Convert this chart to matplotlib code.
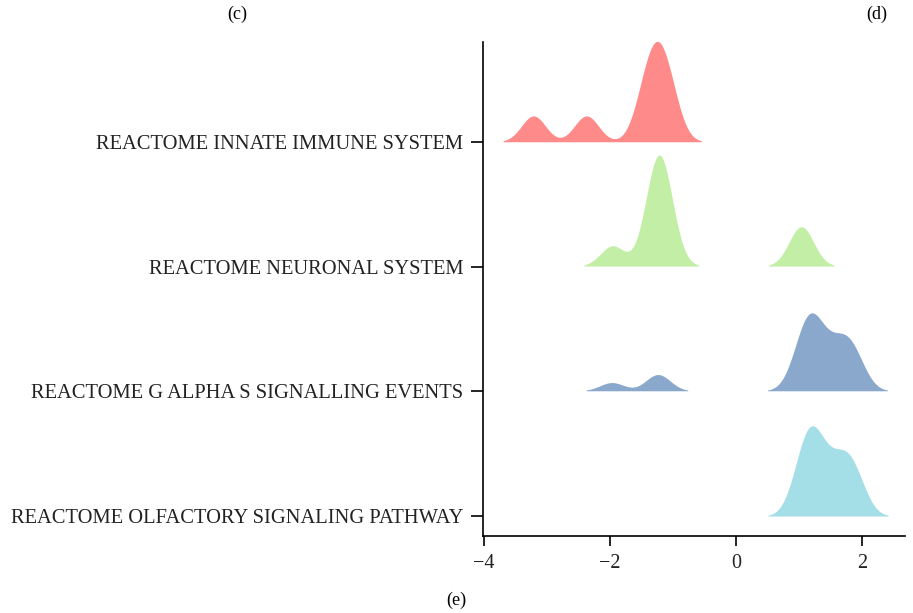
import numpy as np
import matplotlib
matplotlib.use("Agg")
import matplotlib.pyplot as plt

# pathway names, top to bottom
pathways = [
    "REACTOME INNATE IMMUNE SYSTEM",
    "REACTOME NEURONAL SYSTEM",
    "REACTOME G ALPHA S SIGNALLING EVENTS",
    "REACTOME OLFACTORY SIGNALING PATHWAY",
]
colors = ["#FF8A8A", "#C2EFA5", "#8AA8CC", "#A4DFE8"]

# core gene log fold changes
innate_fc = [-3.21, -2.37, -1.45, -1.35, -1.25, -1.15, -1.05]
neuronal_fc = [-1.95, -1.33, -1.27, -1.23, -1.19, -1.15, -1.09, 1.00, 1.08]
olfactory_fc = [0.96, 1.04, 1.08, 1.12, 1.15, 1.18, 1.21, 1.24, 1.28, 1.33,
                1.42, 1.52, 1.60, 1.66, 1.72, 1.77, 1.83, 1.89, 1.95]
galpha_fc = [-1.96, -1.26, -1.20] + olfactory_fc

groups = [innate_fc, neuronal_fc, galpha_fc, olfactory_fc]
xticks = [-4, -2, 0, 2]

bw = 0.19  # joint bandwidth


def kde(vals, grid):
    vals = np.asarray(vals)
    z = (grid[:, None] - vals[None, :]) / bw
    return np.exp(-0.5 * z ** 2).sum(axis=1) / (len(vals) * bw * np.sqrt(2 * np.pi))


fig = plt.figure(figsize=(9.13, 6.13), dpi=100)
ax = fig.add_axes([0.529, 0.1256, 0.462, 0.806])

dens = []
grids = []
for vals in groups:
    g = np.linspace(min(vals) - 3 * bw, max(vals) + 3 * bw, 600)
    grids.append(g)
    dens.append(kde(vals, g))
gmax = max(d.max() for d in dens)
scale = 0.89 / gmax

n = len(pathways)
for i, (g, d) in enumerate(zip(grids, dens)):
    base = n - i
    h = d * scale
    h = np.where(d >= 0.01 * d.max(), h, np.nan)
    ax.fill_between(g, base, base + h, color=colors[i], lw=0, zorder=2 + i)

ax.set_xlim(-4.01, 2.67)
ax.set_ylim(0.84, 4.8)
ax.set_yticks([n - i for i in range(n)])
ax.set_yticklabels(pathways, fontsize=14.8, family='Liberation Serif', color='#222222')
ax.set_xticks(xticks)
ax.set_xticklabels(["\u22124", "\u22122", "0", "2"], fontsize=14.5, family='Liberation Serif', color='#222222')
ax.tick_params(axis='y', length=9, width=1.2, pad=5)
ax.tick_params(axis='x', length=7, width=1.2, pad=6)
for s in ['top', 'right']:
    ax.spines[s].set_visible(False)
for s in ['left', 'bottom']:
    ax.spines[s].set_linewidth(1.2)

# panel letters
fig.text(237 / 913, 1 - 14 / 613, "(c)", ha='center', va='center', fontsize=13, family='Liberation Serif')
fig.text(877 / 913, 1 - 14 / 613, "(d)", ha='center', va='center', fontsize=13, family='Liberation Serif')
fig.text(456 / 913, 1 - 600 / 613, "(e)", ha='center', va='center', fontsize=13, family='Liberation Serif')

fig.savefig("out.png", dpi=100)
